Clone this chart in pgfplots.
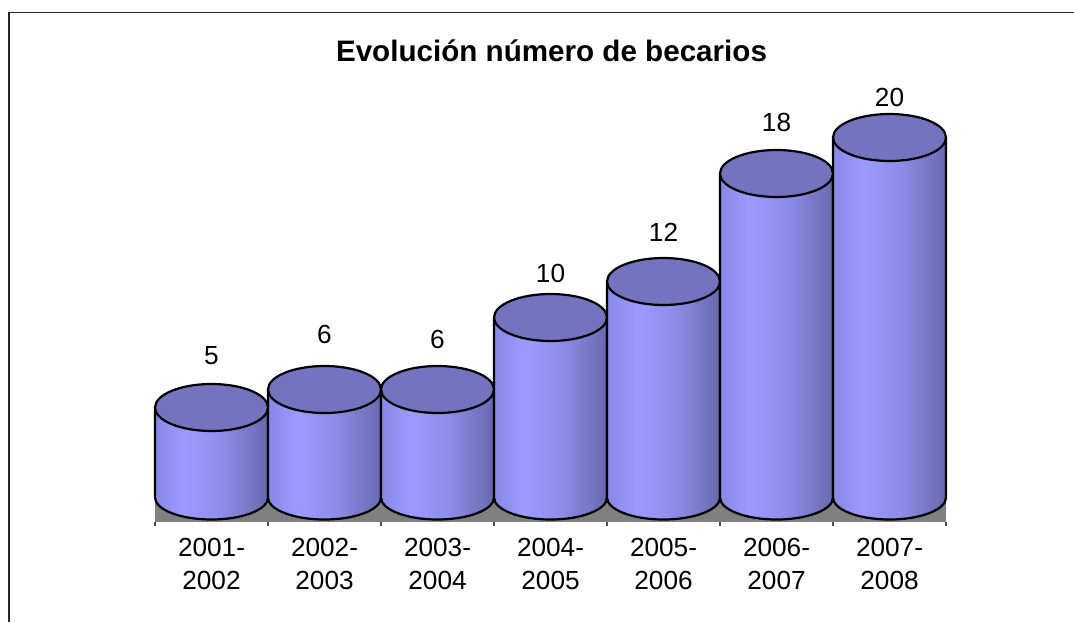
\documentclass[border=0pt]{standalone}
\usepackage{pgfplots}
\usepackage{pgfplotstable}
\pgfplotsset{compat=1.18}
\usepackage{fontspec}
\setmainfont{Liberation Sans}
\pgfdeclarehorizontalshading{cylshade}{100bp}{rgb(0bp)=(0.53,0.53,0.90); rgb(25bp)=(0.53,0.53,0.90); rgb(38bp)=(0.61,0.61,1); rgb(55bp)=(0.55,0.55,0.91); rgb(75bp)=(0.41,0.41,0.69); rgb(100bp)=(0.41,0.41,0.69)}
\definecolor{topc}{RGB}{115,115,192}
\definecolor{floorc}{RGB}{128,128,128}
\pgfdeclareplotmark{cyl}{%
  \pgfmathsetlengthmacro\cylh{-9pt*\val}%
  \begin{pgfscope}%
    \pgfpathmoveto{\pgfpoint{-28.25pt}{0pt}}%
    \pgfpathlineto{\pgfpoint{-28.25pt}{\cylh}}%
    \pgfpatharc{180}{360}{28.25pt and 11pt}%
    \pgfpathlineto{\pgfpoint{28.25pt}{0pt}}%
    \pgfpathclose
    \pgfshadepath{cylshade}{0}%
    \pgfusepath{discard}%
  \end{pgfscope}%
  \pgfsetlinewidth{1.1pt}%
  \pgfsetroundjoin
  \pgfsetstrokecolor{black}%
  \pgfpathmoveto{\pgfpoint{-28.25pt}{0pt}}%
  \pgfpathlineto{\pgfpoint{-28.25pt}{\cylh}}%
  \pgfpatharc{180}{360}{28.25pt and 11pt}%
  \pgfpathlineto{\pgfpoint{28.25pt}{0pt}}%
  \pgfusepath{stroke}%
  \pgfsetfillcolor{topc}%
  \pgfpathellipse{\pgfpointorigin}{\pgfpoint{28.25pt}{0pt}}{\pgfpoint{0pt}{11.75pt}}%
  \pgfusepath{fill,stroke}%
}
\pgfplotstableread{
x y off
0 5 21.75
1 6 23.25
2 6 20.75
3 10 17.75
4 12 20.25
5 18 21.25
6 20 15.75
}\becarios
\begin{document}
\begin{tikzpicture}
\path[use as bounding box] (0,0) rectangle (537pt,311pt);
\draw[line width=0.8pt, black!85] (4.6pt,0) -- (4.6pt,304.75pt) -- (537pt,304.75pt);
\node[anchor=base, font=\fontsize{14.8pt}{17pt}\selectfont\bfseries, inner sep=0pt] at (275.75pt,280pt) {Evolución número de becarios};
\begin{axis}[
  at={(77.5pt,50.25pt)}, anchor=south west,
  x=56.5pt, y=9pt,
  xmin=-0.5, xmax=6.5, ymin=-1.3333, ymax=24,
  axis x line*=bottom, axis y line=none,
  x axis line style={black!70, line width=0.6pt},
  xtick={0,...,6}, major tick length=0pt,
  minor xtick={-0.5,0.5,...,6.5}, minor tick length=2.2pt, tick align=outside,
  minor tick style={black!70, line width=0.6pt},
  xticklabels={{2001-\\2002},{2002-\\2003},{2003-\\2004},{2004-\\2005},{2005-\\2006},{2006-\\2007},{2007-\\2008}},
  xticklabel style={align=center, font=\fontsize{13.1pt}{16.5pt}\selectfont, inner sep=0pt, yshift=-8pt},
  clip=false,
  /pgf/number format/assume math mode=true,
]
\fill[floorc] (axis cs:-0.5,0) rectangle (axis cs:6.5,-1.3333);
\addplot[only marks, mark=cyl, point meta=y,
  visualization depends on={rawy \as \val},
  visualization depends on={\thisrow{off} \as \off},
  nodes near coords,
  every node near coord/.style={anchor=base, yshift=\off*1pt, font=\fontsize{13.1pt}{15pt}\selectfont, text=black, inner sep=0pt},
] table[x=x, y=y] {\becarios};
\end{axis}
\end{tikzpicture}
\end{document}
